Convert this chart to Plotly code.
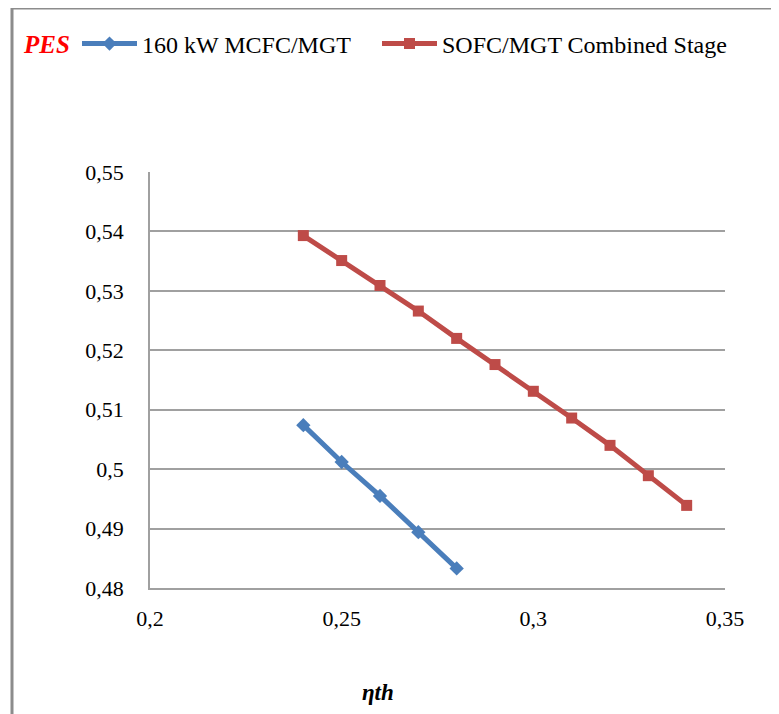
import plotly.graph_objects as go

x_mcfc = [0.24, 0.25, 0.26, 0.27, 0.28]
y_mcfc = [0.5074, 0.5012, 0.4955, 0.4894, 0.4833]

x_sofc = [0.24, 0.25, 0.26, 0.27, 0.28, 0.29, 0.30, 0.31, 0.32, 0.33, 0.34]
y_sofc = [0.5393, 0.5351, 0.5309, 0.5266, 0.5220, 0.5176, 0.5131, 0.5086, 0.5040, 0.4989, 0.4939]

names = ["160 kW MCFC/MGT", "SOFC/MGT Combined Stage"]
colors = ["#4a7ebb", "#be4b48"]

FONT = "Liberation Serif"
OFF = 8  # page body margin
L, R, T, B = 150 - OFF, 54, 172 - OFF, 126
W, H = 779 - OFF, 714 - OFF
PW, PH = W - L - R, H - T - B

def px(x):
    return (x - OFF - L) / PW

def py(y):
    return (H - B - (y - OFF)) / PH

fig = go.Figure()
fig.add_trace(go.Scatter(x=x_mcfc, y=y_mcfc, mode="lines+markers", name=names[0],
                         line=dict(color=colors[0], width=5),
                         marker=dict(symbol="diamond", size=11, color=colors[0]),
                         legend="legend"))
fig.add_trace(go.Scatter(x=x_sofc, y=y_sofc, mode="lines+markers", name=names[1],
                         line=dict(color=colors[1], width=5),
                         marker=dict(symbol="square", size=11, color=colors[1]),
                         legend="legend2"))

leg_common = dict(orientation="h", xanchor="left", yanchor="middle",
                  font=dict(family=FONT, size=24, color="black"),
                  itemwidth=55, bgcolor="rgba(0,0,0,0)")

fig.update_layout(
    width=W, height=H,
    margin=dict(l=L, r=R, t=T, b=B),
    paper_bgcolor="white", plot_bgcolor="white",
    separators=", ",
    font=dict(family=FONT, size=22, color="black"),
    showlegend=True,
    legend=dict(x=px(77), y=py(44), **leg_common),
    legend2=dict(x=px(377), y=py(44), **leg_common),
    xaxis=dict(range=[0.2, 0.35], dtick=0.05, tick0=0.2, showgrid=False, zeroline=False,
               showline=True, linecolor="#a0a0a0", linewidth=1.5, ticks="",
               ticklabelstandoff=10, tickfont=dict(family=FONT, size=22)),
    yaxis=dict(range=[0.48, 0.55], dtick=0.01, tick0=0.48, showgrid=True, gridcolor="#a0a0a0",
               gridwidth=1.5, zeroline=False, showline=True, linecolor="#a0a0a0", linewidth=1.5,
               ticks="", ticklabelstandoff=20, tickfont=dict(family=FONT, size=22)),
    shapes=[dict(type="rect", xref="paper", yref="paper",
                 x0=px(12), x1=px(800), y0=py(740), y1=py(8),
                 line=dict(color="#8c8c8c", width=3), fillcolor="rgba(0,0,0,0)", layer="below")],
    annotations=[
        dict(text="<b><i>PES</i></b>", xref="paper", yref="paper", x=px(46), y=py(44),
             xanchor="center", yanchor="middle", showarrow=False,
             font=dict(family=FONT, size=25, color="#ff0000")),
        dict(text="<b><i>ηth</i></b>", xref="paper", yref="paper", x=px(378), y=py(692),
             xanchor="center", yanchor="middle", showarrow=False,
             font=dict(family=FONT, size=23, color="black")),
    ],
)

fig.write_html("out.html")
